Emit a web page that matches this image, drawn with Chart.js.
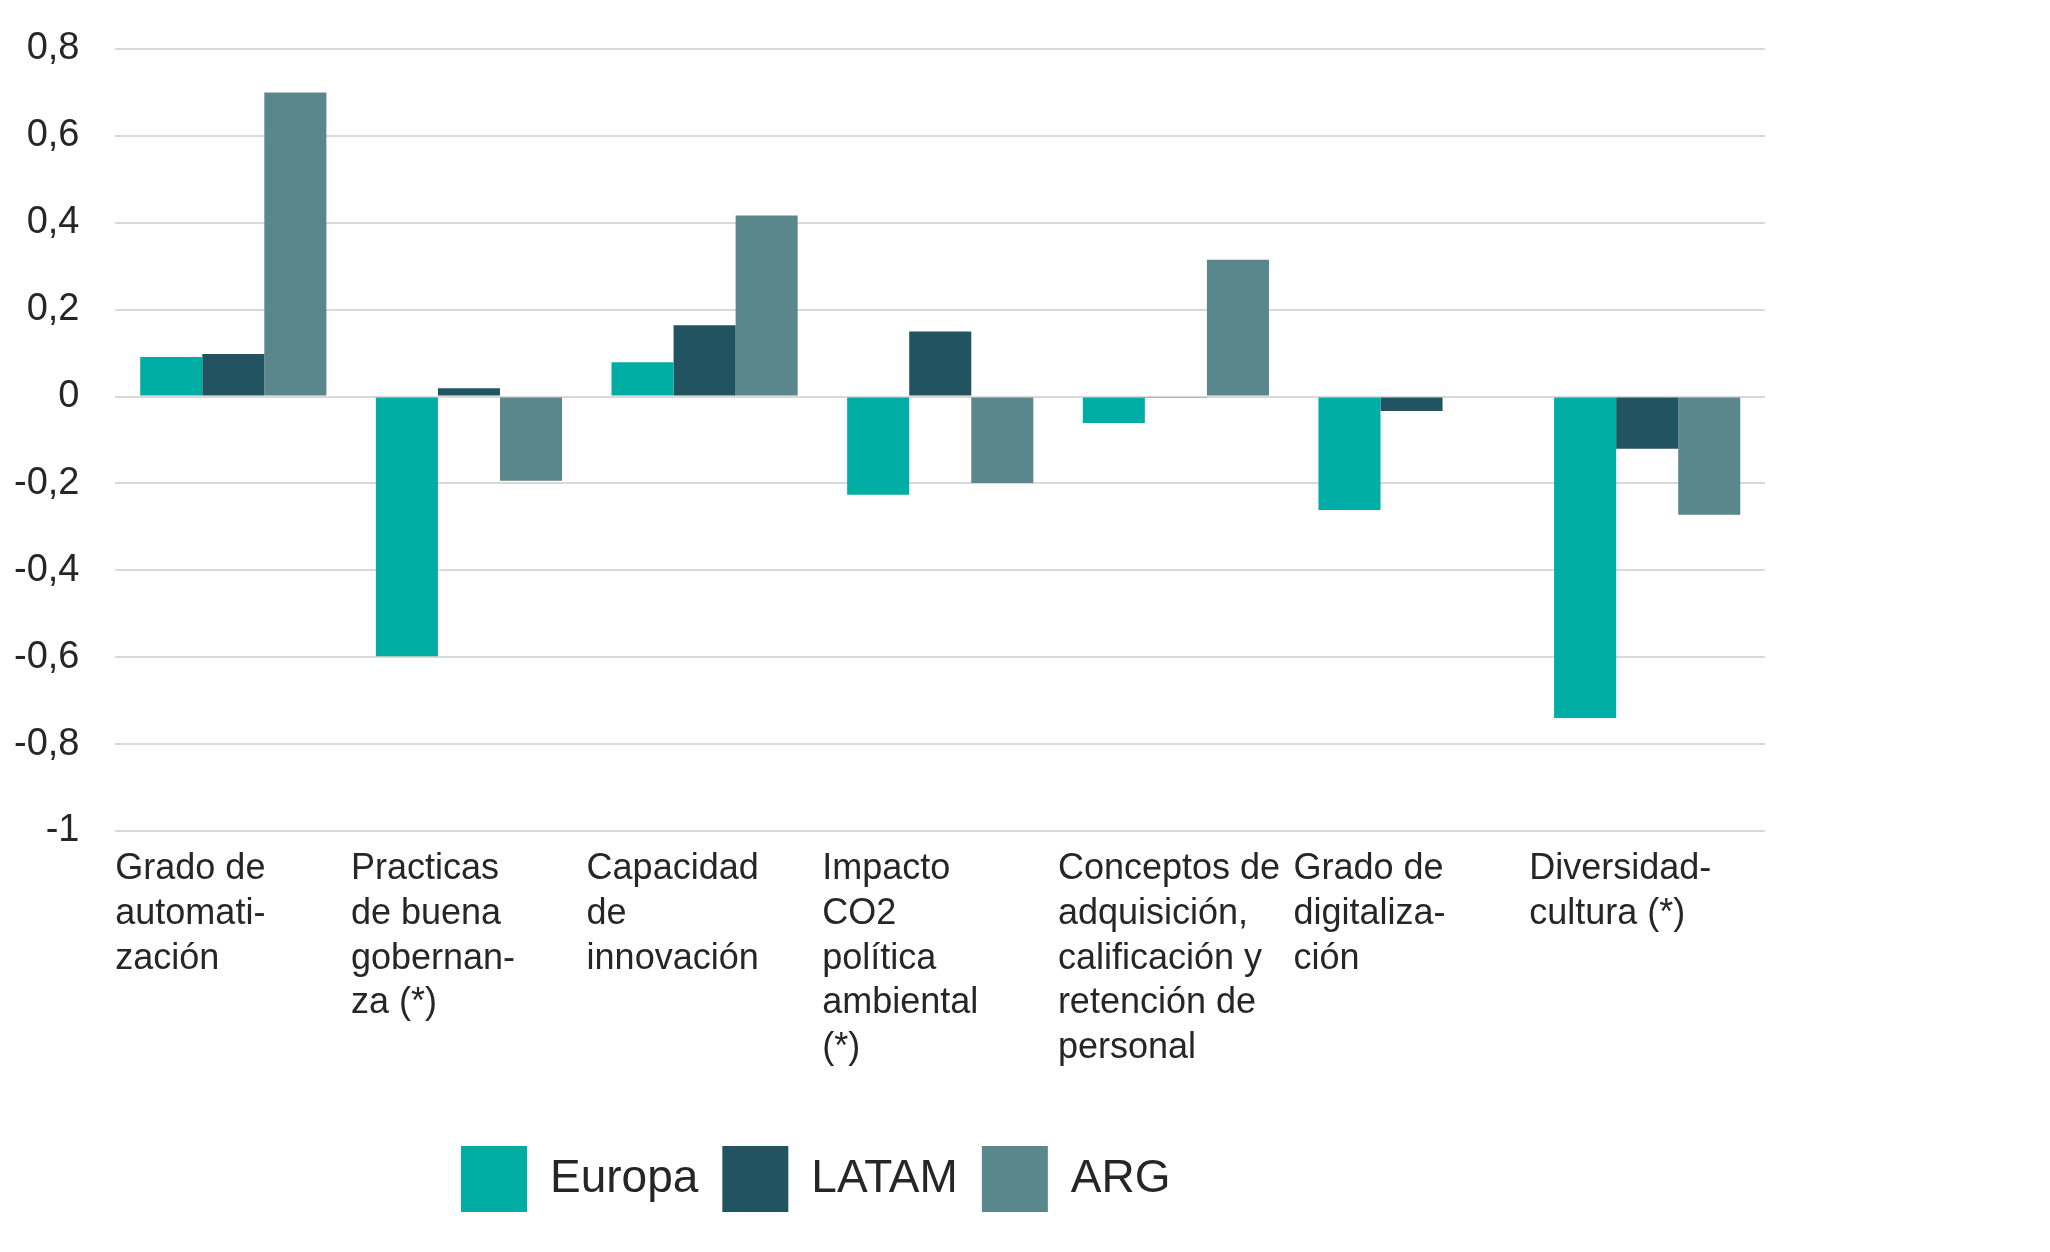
<!DOCTYPE html>
<html>
<head>
<meta charset="utf-8">
<script src="https://cdn.jsdelivr.net/npm/chart.js@4.4.1/dist/chart.umd.min.js"></script>
<style>
html, body { margin: 0; padding: 0; background: #fff; }
#wrap { width: 2050px; height: 1252px; }
</style>
</head>
<body>
<div id="wrap"><canvas id="chart" width="2050" height="1252"></canvas></div>
<script>
const categories = [
    ['Grado de', 'automati-', 'zación'],
    ['Practicas', 'de buena', 'gobernan-', 'za (*)'],
    ['Capacidad', 'de', 'innovación'],
    ['Impacto', 'CO2', 'política', 'ambiental', '(*)'],
    ['Conceptos de', 'adquisición,', 'calificación y', 'retención de', 'personal'],
    ['Grado de', 'digitaliza-', 'ción'],
    ['Diversidad-', 'cultura (*)']
];
const europa = [0.091, -0.598, 0.079, -0.226, -0.061, -0.261, -0.74];
const latam = [0.098, 0.019, 0.164, 0.150, -0.003, -0.033, -0.12];
const arg = [0.70, -0.194, 0.417, -0.199, 0.315, null, -0.272];
const yMin = -1;
const yMax = 0.8;
const yStep = 0.2;

const FONT = '"Liberation Sans", Arial, sans-serif';
const TEXT = '#262626';
const GRID = '#d9d9d9';
const LEGEND_X = 461;   // where the first legend box starts

// move the legend to where it sits in the original
const legendShift = {
    id: 'legendShift',
    afterLayout(chart) {
        const lg = chart.legend;
        if (!lg) return;
        lg.left = LEGEND_X - lg.options.labels.padding;
    }
};

new Chart(document.getElementById('chart'), {
    type: 'bar',
    data: {
        labels: categories,
        datasets: [
            { label: 'Europa', data: europa, backgroundColor: '#00ada5', borderWidth: 0 },
            { label: 'LATAM', data: latam, backgroundColor: '#225360', borderWidth: 0 },
            { label: 'ARG', data: arg, backgroundColor: '#5a878c', borderWidth: 0 }
        ]
    },
    options: {
        responsive: false,
        animation: false,
        devicePixelRatio: 1,
        layout: { padding: { left: 0, right: 285, top: 49, bottom: 30 } },
        datasets: {
            bar: { barPercentage: 1, categoryPercentage: 0.79 }
        },
        scales: {
            x: {
                grid: { display: false },
                border: { display: false },
                ticks: {
                    autoSkip: false,
                    maxRotation: 0,
                    minRotation: 0,
                    align: 'start',
                    labelOffset: -118,
                    padding: 8,
                    color: TEXT,
                    font: { family: FONT, size: 36, lineHeight: 1.24 }
                },
                afterFit: (axis) => { axis.height = 291; }
            },
            y: {
                min: yMin,
                max: yMax,
                grid: { color: GRID, lineWidth: 2, drawTicks: true, tickLength: 22, tickColor: 'rgba(0,0,0,0)' },
                border: { display: false },
                ticks: {
                    stepSize: yStep,
                    padding: 14,
                    color: TEXT,
                    font: { family: FONT, size: 38 },
                    callback: (v) => (Math.round(v * 10) / 10).toString().replace('.', ',')
                }
            }
        },
        plugins: {
            legend: {
                position: 'bottom',
                align: 'start',
                labels: {
                    boxWidth: 66,
                    boxHeight: 66,
                    padding: 24,
                    color: TEXT,
                    font: { family: FONT, size: 46 }
                }
            },
            tooltip: { enabled: false }
        }
    },
    plugins: [legendShift]
});
</script>
</body>
</html>
